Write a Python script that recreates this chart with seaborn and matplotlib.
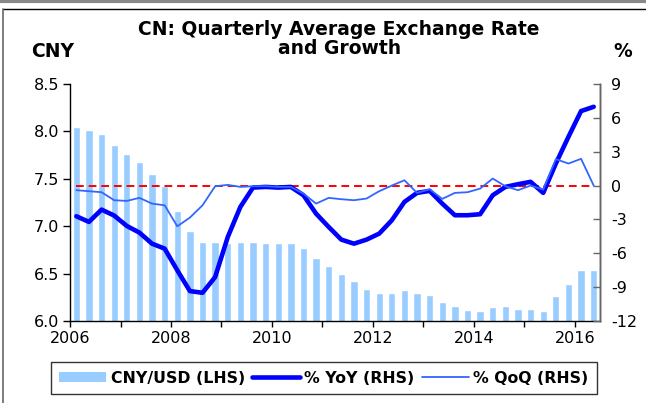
import matplotlib
matplotlib.use('Agg')
import matplotlib.pyplot as plt
from matplotlib.lines import Line2D
from matplotlib.patches import Patch
import seaborn as sns
import pandas as pd

# Quarterly data, 2006Q1 - 2016Q2
quarters = [f'{y}Q{q}' for y in range(2006, 2017) for q in range(1, 5)][:42]
cny_usd = [8.05, 8.01, 7.97, 7.86, 7.76, 7.68, 7.55, 7.42, 7.16, 6.95, 6.83, 6.83, 6.82, 6.83, 6.83,
           6.826, 6.826, 6.82, 6.77, 6.66, 6.58, 6.50, 6.42, 6.335, 6.30, 6.30, 6.33, 6.30, 6.275, 6.20,
           6.16, 6.12, 6.11, 6.15, 6.155, 6.13, 6.13, 6.11, 6.26, 6.39, 6.54, 6.54]
yoy = [-2.72, -3.22, -2.13, -2.66, -3.58, -4.17, -5.15, -5.59, -7.51, -9.35, -9.50, -8.11, -4.56, -1.89, -0.18,
       -0.12, -0.18, -0.12, -0.86, -2.49, -3.67, -4.79, -5.15, -4.79, -4.26, -3.08, -1.45, -0.65, -0.47, -1.6,
       -2.63, -2.63, -2.54, -0.86, -0.12, 0.12, 0.33, -0.65, 1.95, 4.32, 6.60, 6.98]
qoq = [-0.41, -0.50, -0.59, -1.30, -1.36, -1.09, -1.60, -1.75, -3.61, -2.84, -1.75, -0.06, 0.06, -0.12, -0.06,
       -0.06, -0.12, -0.12, -0.71, -1.60, -1.09, -1.21, -1.30, -1.15, -0.50, 0.0, 0.47, -0.65, -0.33, -1.18,
       -0.65, -0.59, -0.27, 0.62, -0.06, -0.41, 0.0, -0.36, 2.34, 1.95, 2.37, 0.0]
years = list(range(2006, 2017))
left_ticks = [6.0, 6.5, 7.0, 7.5, 8.0, 8.5]
right_ticks = [-12, -9, -6, -3, 0, 3, 6, 9]

df = pd.DataFrame({'quarter': quarters, 'cny': cny_usd, 'yoy': yoy, 'qoq': qoq})
df['pos'] = range(len(df))

sns.set_style('white')
plt.rcParams['font.family'] = ['DejaVu Sans']
plt.rcParams['axes.unicode_minus'] = False
plt.rcParams['text.color'] = 'black'
plt.rcParams['xtick.color'] = 'black'
plt.rcParams['ytick.color'] = 'black'

bar_col = '#99CCFF'
yoy_col = '#0000FF'
qoq_col = '#3366FF'

fig = plt.figure(figsize=(6.46, 4.03), dpi=100)
ax = fig.add_axes([0.1084, 0.2035, 0.8204, 0.5881])

sns.barplot(data=df, x='quarter', y='cny', color=bar_col, width=0.58, saturation=1, ax=ax)
ax.set_ylim(6.0, 8.5)
ax.set_xlim(-0.5, len(df) - 0.5)
ax.set_yticks(left_ticks)
ax.set_yticklabels([f'{v:.1f}' for v in left_ticks])
ax.set_xticks([-0.5 + 4 * i for i in range(len(years))])
ax.set_xticklabels([str(y) if (y - 2006) % 2 == 0 else '' for y in years])
ax.set_xlabel('')
ax.set_ylabel('')
ax.tick_params(axis='y', direction='out', length=5, width=1, labelsize=11.5, pad=3, left=True)
ax.tick_params(axis='x', direction='out', length=4, width=1, labelsize=11.5, pad=3, bottom=True)

ax2 = ax.twinx()
ax2.hlines(0, df['pos'].iloc[0], df['pos'].iloc[-1], colors='#FF0000', linestyles=(0, (4, 2.5)), lw=1.4, zorder=1)
sns.lineplot(data=df, x='pos', y='yoy', color=yoy_col, lw=3.3, ax=ax2, zorder=3)
sns.lineplot(data=df, x='pos', y='qoq', color=qoq_col, lw=1.3, ax=ax2, zorder=4)
ax2.set_ylim(-12, 9)
ax2.set_yticks(right_ticks)
ax2.set_yticklabels([str(v) for v in right_ticks])
ax2.set_xlim(-0.5, len(df) - 0.5)
ax2.set_ylabel('')
ax2.set_xlabel('')
ax2.tick_params(axis='y', direction='in', length=5, width=1, labelsize=11.5, pad=8, right=True,
                color='#666666', labelcolor='black')

for a in (ax, ax2):
    a.spines['top'].set_visible(False)
    for s in a.spines.values():
        s.set_linewidth(1)
        s.set_color('black')
ax2.spines['right'].set_color('#666666')
ax2.spines['left'].set_visible(False)
ax2.spines['bottom'].set_visible(False)

fig.text(0.525, 0.903, 'CN: Quarterly Average Exchange Rate\nand Growth', ha='center', va='center',
         fontsize=13.5, fontweight='bold', linespacing=1.0)
fig.text(0.081, 0.871, 'CNY', ha='center', va='center', fontsize=13.5, fontweight='bold')
fig.text(0.964, 0.871, '%', ha='center', va='center', fontsize=13.5, fontweight='bold')

handles = [Patch(facecolor=bar_col, edgecolor='none'),
           Line2D([], [], color=yoy_col, lw=3.3),
           Line2D([], [], color=qoq_col, lw=1.3)]
labels = ['CNY/USD (LHS)', '% YoY (RHS)', '% QoQ (RHS)']
leg = fig.legend(handles, labels, loc='lower center', bbox_to_anchor=(0.5015, 0.022), ncol=3,
                 frameon=True, fancybox=False, edgecolor='black', handlelength=3.0, handleheight=0.55,
                 handletextpad=0.3, columnspacing=0.45, borderpad=0.55, borderaxespad=0,
                 prop={'size': 11.3, 'weight': 'bold'})
leg.get_frame().set_linewidth(1)

# outer frame
fig.add_artist(Line2D([0, 1], [0.9965, 0.9965], transform=fig.transFigure, color='#888888', lw=3))
fig.add_artist(Line2D([0.005, 1], [0.978, 0.978], transform=fig.transFigure, color='black', lw=1))
fig.add_artist(Line2D([0.005, 0.005], [0, 0.978], transform=fig.transFigure, color='#666666', lw=1.2))

fig.savefig('out.png', dpi=100)
